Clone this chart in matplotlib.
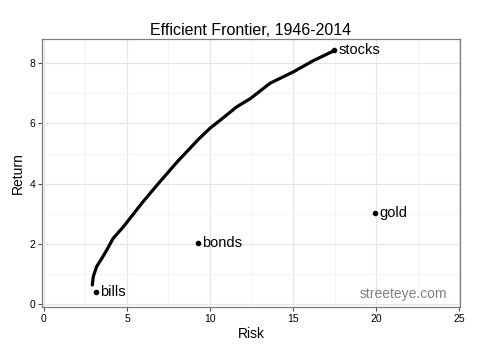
import numpy as np
import matplotlib
matplotlib.use("Agg")
import matplotlib.pyplot as plt
from matplotlib.ticker import MultipleLocator

plt.rcParams["font.family"] = ["Liberation Sans", "DejaVu Sans"]

# frontier (risk, return)
frontier_risk = [2.91, 2.97, 3.17, 3.48, 3.78, 4.17, 4.78, 5.18, 5.89, 6.39, 6.99,
                 8.05, 9.30, 10.00, 10.60, 11.61, 12.45, 13.61, 15.02, 16.22, 17.47]
frontier_ret = [0.64, 0.92, 1.25, 1.52, 1.80, 2.19, 2.57, 2.85, 3.35, 3.68, 4.07,
                4.74, 5.47, 5.84, 6.10, 6.55, 6.83, 7.33, 7.71, 8.08, 8.41]

assets = ["bills", "bonds", "gold", "stocks"]
asset_risk = [3.13, 9.30, 19.94, 17.47]
asset_ret = [0.42, 2.03, 3.03, 8.42]

fig = plt.figure(figsize=(4.8, 3.52), dpi=100)
ax = fig.add_axes([42 / 480, 1 - 307 / 352, 418 / 480, 268 / 352])

ax.plot(frontier_risk, frontier_ret, color="black", lw=2.3, solid_capstyle="round",
        solid_joinstyle="round", zorder=3)
ax.plot(asset_risk, asset_ret, "o", color="black", ms=3, zorder=4)
for name, x, y in zip(assets, asset_risk, asset_ret):
    ax.annotate(name, (x, y), xytext=(3, 0), textcoords="offset points",
                ha="left", va="center", fontsize=10.5, color="black")

ax.text(24.3, 0.12, "streeteye.com", color="#808080", fontsize=10, ha="right", va="bottom")

ax.set_xlim(-0.12, 25.06)
ax.set_ylim(-0.09, 8.8)
ax.xaxis.set_major_locator(MultipleLocator(5))
ax.xaxis.set_minor_locator(MultipleLocator(2.5))
ax.yaxis.set_major_locator(MultipleLocator(2))
ax.yaxis.set_minor_locator(MultipleLocator(1))
ax.grid(which="major", color="#e5e5e5", lw=0.8)
ax.grid(which="minor", color="#f3f3f3", lw=0.6)
ax.set_axisbelow(True)
for s in ax.spines.values():
    s.set_color("#7f7f7f")
    s.set_linewidth(0.9)
ax.tick_params(which="major", length=3, color="#4d4d4d", labelsize=7.5, labelcolor="black", pad=2)
ax.tick_params(which="minor", length=0)

ax.set_title("Efficient Frontier, 1946-2014", fontsize=11.5, pad=3)
ax.set_xlabel("Risk", fontsize=10, labelpad=2)
ax.set_ylabel("Return", fontsize=10, labelpad=3)

fig.savefig("out.png", dpi=100)
